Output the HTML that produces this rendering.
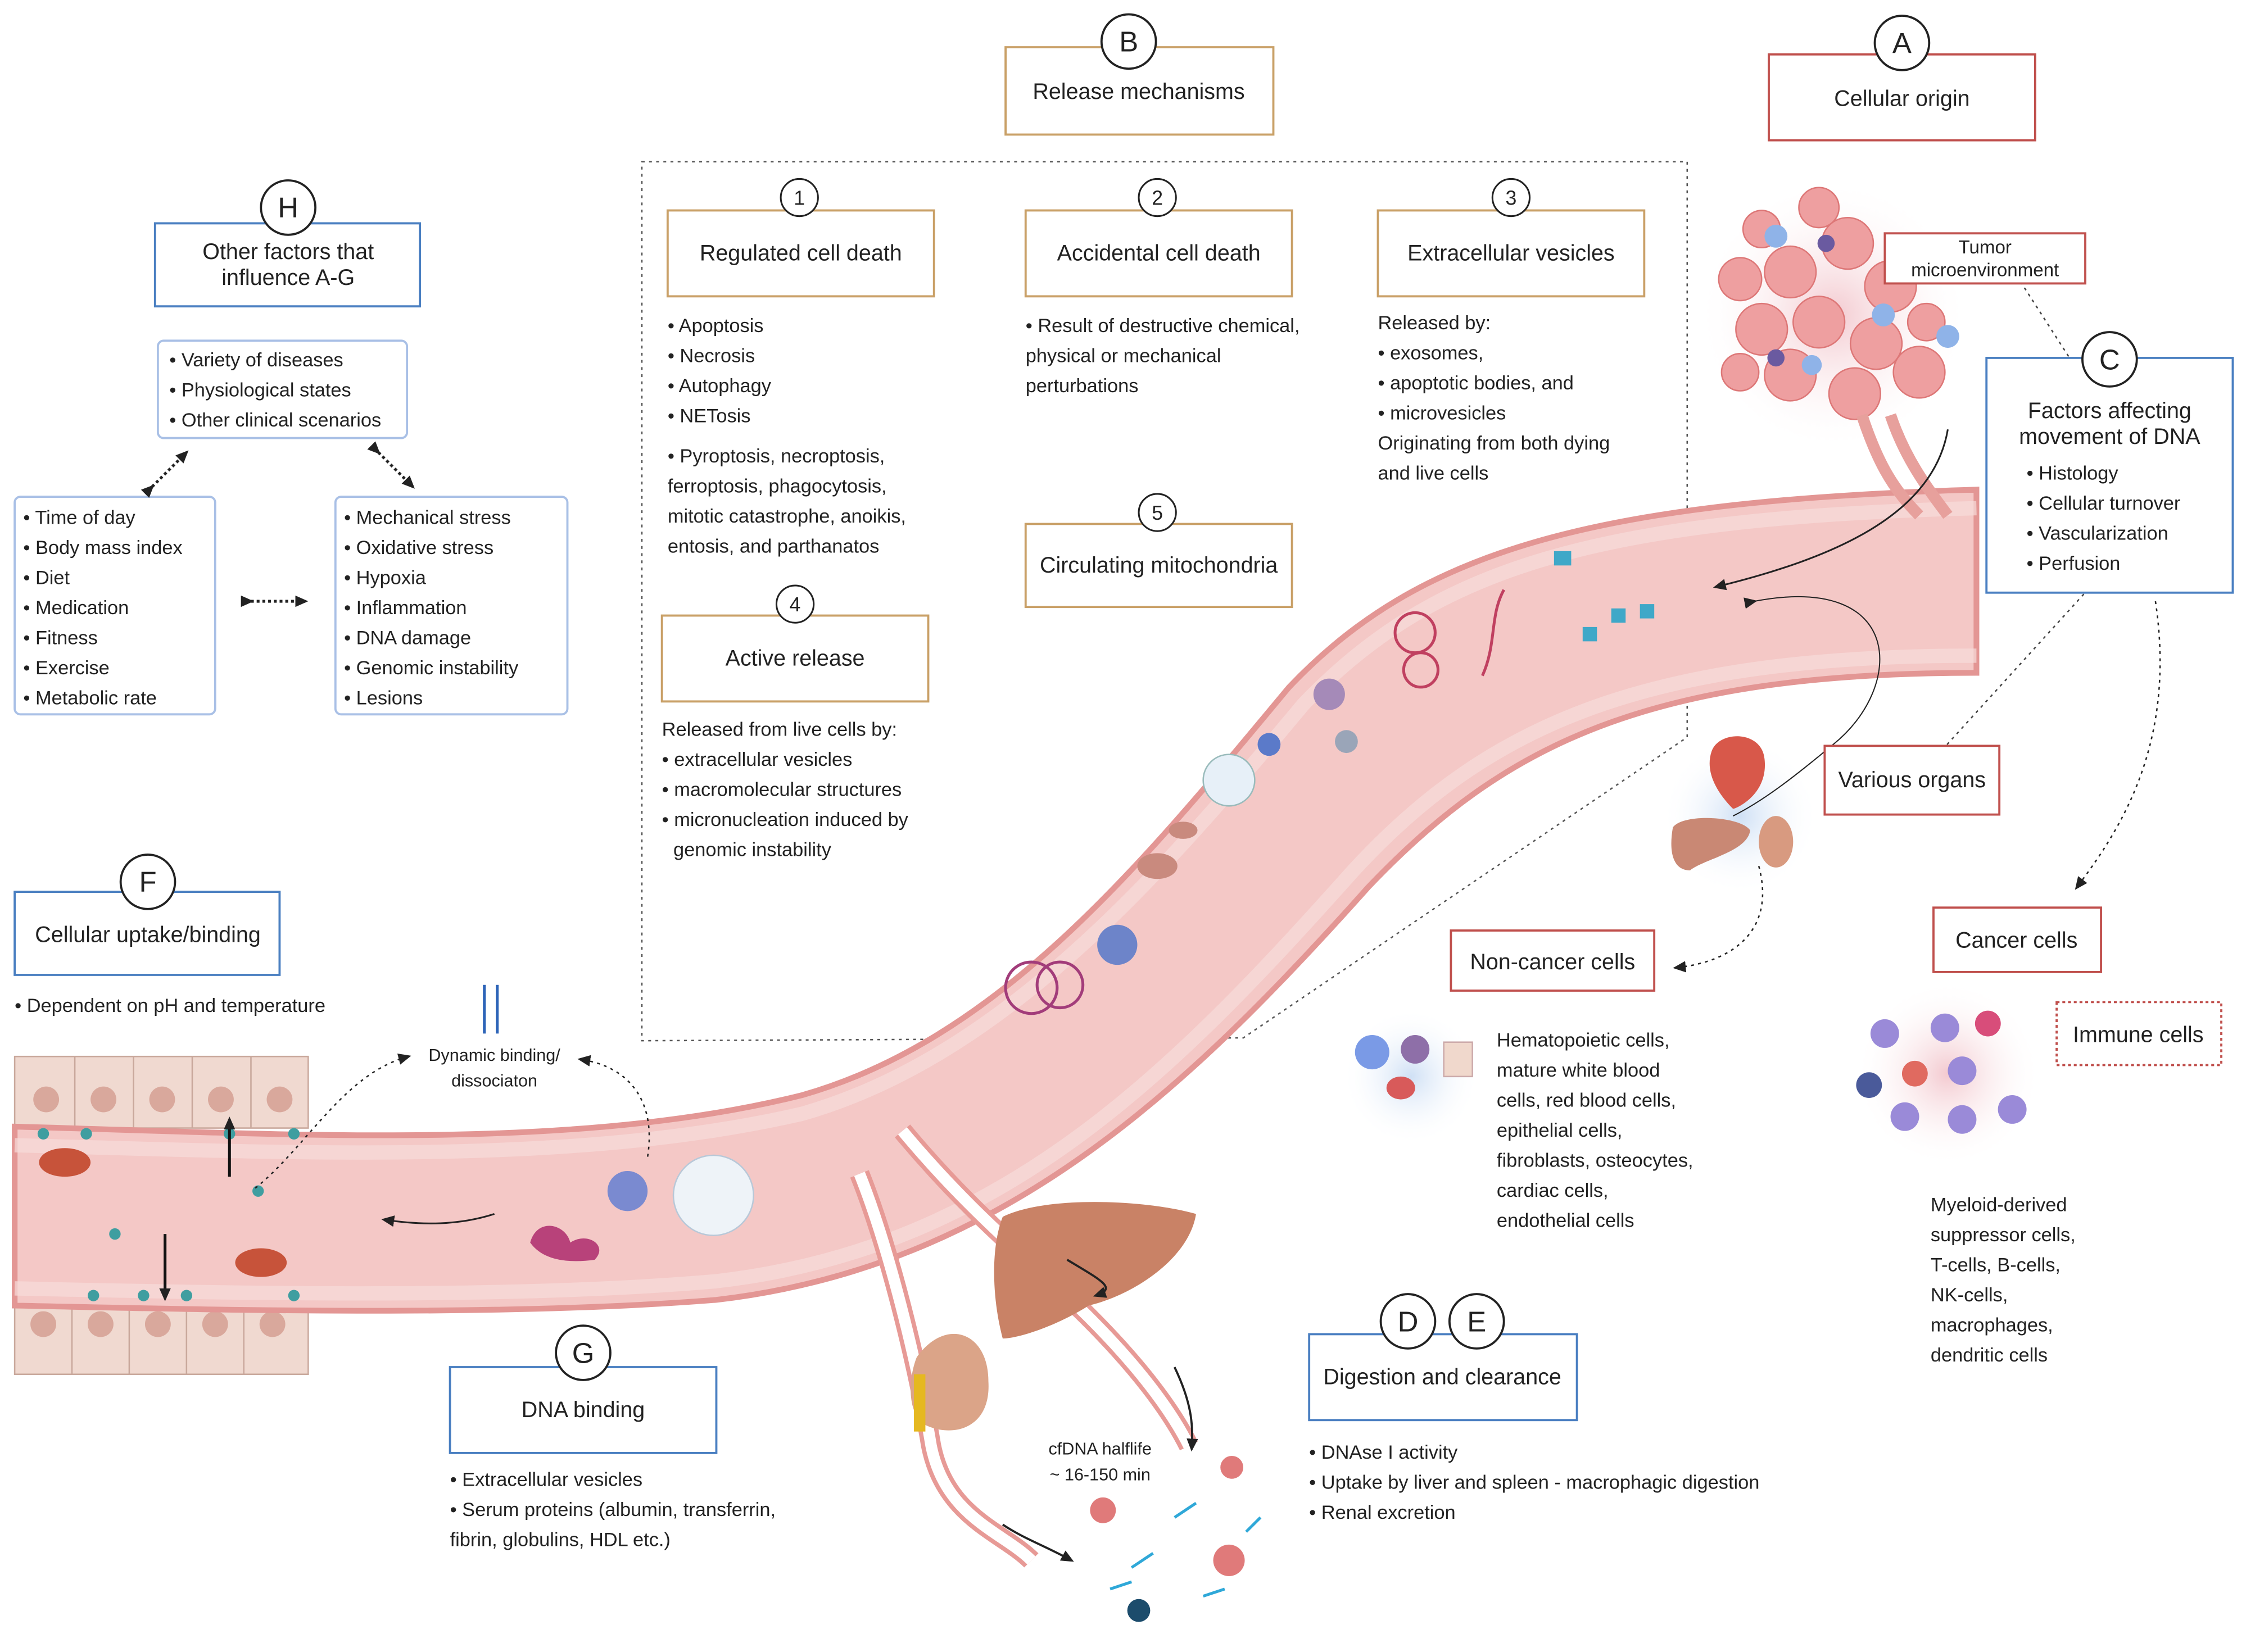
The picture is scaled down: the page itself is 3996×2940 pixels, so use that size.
<!DOCTYPE html>
<html><head><meta charset="utf-8">
<style>
html,body{margin:0;padding:0;background:#fff;}
svg{display:block;}
text{font-family:"Liberation Sans",sans-serif;fill:#222;}
</style></head>
<body>
<svg width="3996" height="2940" viewBox="0 0 1568 1154" xmlns="http://www.w3.org/2000/svg">
<defs>
<marker id="ar" markerUnits="userSpaceOnUse" markerWidth="9" markerHeight="8" refX="7" refY="4" orient="auto"><path d="M0,0 L9,4 L0,8 z" fill="#222"/></marker>
<radialGradient id="glow"><stop offset="0" stop-color="#f3c9cf"/><stop offset="1" stop-color="#fff" stop-opacity="0"/></radialGradient>
<radialGradient id="glowb"><stop offset="0" stop-color="#cfe0f5"/><stop offset="1" stop-color="#fff" stop-opacity="0"/></radialGradient>
</defs>

<path d="M448,113 L1178,113 L1178,515 L868,725 L448,727 Z" fill="none" stroke="#555" stroke-dasharray="2,3" stroke-width="1"/>

<g fill="#f0d9d0" stroke="#c9a89c" stroke-width="1">
<rect x="10" y="738" width="205" height="50"/>
<rect x="10" y="910" width="205" height="50"/>
</g>
<g stroke="#c9a89c" stroke-width="1">
<line x1="52" y1="738" x2="52" y2="788"/><line x1="93" y1="738" x2="93" y2="788"/><line x1="134" y1="738" x2="134" y2="788"/><line x1="175" y1="738" x2="175" y2="788"/>
<line x1="50" y1="910" x2="50" y2="960"/><line x1="90" y1="910" x2="90" y2="960"/><line x1="130" y1="910" x2="130" y2="960"/><line x1="170" y1="910" x2="170" y2="960"/>
</g>
<g fill="#d9a89c">
<circle cx="32" cy="768" r="9"/><circle cx="72" cy="768" r="9"/><circle cx="113" cy="768" r="9"/><circle cx="154" cy="768" r="9"/><circle cx="195" cy="768" r="9"/>
<circle cx="30" cy="925" r="9"/><circle cx="70" cy="925" r="9"/><circle cx="110" cy="925" r="9"/><circle cx="150" cy="925" r="9"/><circle cx="190" cy="925" r="9"/>
</g>

<path d="M10,787 C200,792 400,805 560,765 C700,725 800,600 900,480 C990,385 1110,350 1380,342 L1380,470 C1150,470 1050,520 955,620 C830,760 700,885 500,908 C350,920 150,915 10,912 Z" fill="#f4c8c6" stroke="#e39694" stroke-width="4"/>
<path d="M10,800 C200,805 400,815 560,778 C700,738 810,612 910,492 C1000,398 1110,362 1380,355" fill="none" stroke="#f7dcda" stroke-width="10" opacity=".7"/>
<path d="M10,900 C150,903 350,908 500,895 C700,872 820,748 945,608 C1040,505 1150,458 1380,458" fill="none" stroke="#f7dcda" stroke-width="10" opacity=".7"/>

<circle cx="1280" cy="220" r="95" fill="url(#glow)"/>
<g fill="#ee9fa0" stroke="#d77" stroke-width="1">
<circle cx="1250" cy="190" r="18"/><circle cx="1290" cy="170" r="18"/><circle cx="1320" cy="200" r="18"/><circle cx="1230" cy="230" r="18"/><circle cx="1270" cy="225" r="18"/><circle cx="1310" cy="240" r="18"/><circle cx="1250" cy="262" r="18"/><circle cx="1295" cy="275" r="18"/><circle cx="1340" cy="260" r="18"/><circle cx="1215" cy="195" r="15"/>
<circle cx="1270" cy="145" r="14"/><circle cx="1230" cy="160" r="13"/><circle cx="1345" cy="225" r="13"/><circle cx="1215" cy="260" r="13"/>
</g>
<g fill="#8fb3e8"><circle cx="1240" cy="165" r="8"/><circle cx="1315" cy="220" r="8"/><circle cx="1360" cy="235" r="8"/><circle cx="1265" cy="255" r="7"/></g>
<g fill="#6a5aa0"><circle cx="1275" cy="170" r="6"/><circle cx="1335" cy="185" r="6"/><circle cx="1240" cy="250" r="6"/></g>
<path d="M1300,290 C1310,320 1320,340 1340,360 M1320,290 C1330,320 1345,340 1360,360" stroke="#e7a09c" stroke-width="8" fill="none"/>

<circle cx="1215" cy="570" r="55" fill="url(#glowb)"/>
<path d="M1195,525 C1200,510 1230,510 1232,530 C1235,555 1212,565 1210,565 C1200,555 1190,540 1195,525Z" fill="#d8584a"/>
<path d="M1168,578 C1175,568 1215,570 1222,580 C1220,595 1190,600 1180,608 C1168,608 1165,595 1168,578Z" fill="#c98874"/>
<ellipse cx="1240" cy="588" rx="12" ry="18" fill="#d89a80"/>

<g fill="none" stroke-width="2">
<circle cx="720" cy="690" r="18" stroke="#a23c7a"/><circle cx="740" cy="688" r="16" stroke="#a23c7a"/>
<circle cx="988" cy="442" r="14" stroke="#c04060"/><circle cx="992" cy="468" r="12" stroke="#c04060"/>
<path d="M1035,472 C1045,450 1040,430 1050,412" stroke="#c04060"/>
</g>
<g fill="#3fa8c8"><rect x="1085" y="385" width="12" height="10"/><rect x="1105" y="438" width="10" height="10"/><rect x="1125" y="425" width="10" height="10"/><rect x="1145" y="422" width="10" height="10"/></g>
<circle cx="858" cy="545" r="18" fill="#e7f0f8" stroke="#9bb"/>
<circle cx="780" cy="660" r="14" fill="#6d84c9"/>
<ellipse cx="808" cy="605" rx="14" ry="9" fill="#c98a7e"/>
<ellipse cx="826" cy="580" rx="10" ry="6" fill="#c98a7e"/>
<circle cx="928" cy="485" r="11" fill="#a58ab8"/>
<circle cx="940" cy="518" r="8" fill="#9aa5b8"/>
<circle cx="886" cy="520" r="8" fill="#5b7ac9"/>
<circle cx="498" cy="835" r="28" fill="#eef3f8" stroke="#b8c8d8"/>
<circle cx="438" cy="832" r="14" fill="#7a8ad0"/>
<path d="M370,868 C375,850 395,855 398,868 C410,860 425,870 415,880 C400,882 380,882 370,868Z" fill="#b8427a"/>
<g fill="#3f9ea0"><circle cx="30" cy="792" r="4"/><circle cx="60" cy="792" r="4"/><circle cx="160" cy="792" r="4"/><circle cx="205" cy="792" r="4"/><circle cx="80" cy="862" r="4"/><circle cx="65" cy="905" r="4"/><circle cx="100" cy="905" r="4"/><circle cx="130" cy="905" r="4"/><circle cx="205" cy="905" r="4"/><circle cx="180" cy="832" r="4"/></g>
<ellipse cx="45" cy="812" rx="18" ry="10" fill="#c7533a"/>
<ellipse cx="182" cy="882" rx="18" ry="10" fill="#c7533a"/>

<line x1="160" y1="822" x2="160" y2="782" stroke="#111" stroke-width="2" marker-end="url(#ar)"/>
<line x1="115" y1="862" x2="115" y2="907" stroke="#111" stroke-width="2" marker-end="url(#ar)"/>
<path d="M345,848 C320,856 295,856 268,852" stroke="#222" stroke-width="1.2" fill="none" marker-end="url(#ar)"/>
<path d="M178,830 C215,800 240,750 285,738" stroke="#222" stroke-dasharray="2,3" fill="none" marker-end="url(#ar)"/>
<path d="M452,808 C458,770 440,745 405,740" stroke="#222" stroke-dasharray="2,3" fill="none" marker-end="url(#ar)"/>
<line x1="338" y1="688" x2="338" y2="722" stroke="#2d64b8" stroke-width="2"/>
<line x1="347" y1="722" x2="347" y2="688" stroke="#2d64b8" stroke-width="2"/>
<path d="M1360,300 C1350,360 1280,390 1198,410" stroke="#222" stroke-width="1.2" fill="none" marker-end="url(#ar)"/>
<path d="M1225,420 C1330,400 1330,480 1280,520 C1250,545 1230,560 1210,570" stroke="#222" stroke-width="0.8" fill="none" marker-start="url(#ar)"/>
<path d="M1400,180 L1445,250" stroke="#444" stroke-dasharray="2,3"/>
<path d="M1455,415 L1355,525" stroke="#444" stroke-dasharray="2,3"/>
<path d="M1505,420 C1520,520 1480,580 1450,620" stroke="#222" stroke-dasharray="2,3" fill="none" marker-end="url(#ar)"/>
<path d="M1228,605 C1240,650 1210,672 1170,676" stroke="#222" stroke-dasharray="2,3" fill="none" marker-end="url(#ar)"/>

<path d="M630,790 C680,850 720,880 760,920 C800,960 820,990 830,1010" stroke="#e79a96" stroke-width="14" fill="none"/>
<path d="M630,790 C680,850 720,880 760,920 C800,960 820,990 830,1010" stroke="#fff" stroke-width="8" fill="none"/>
<path d="M600,820 C620,870 640,950 650,1010 C660,1060 700,1070 720,1090" stroke="#e79a96" stroke-width="14" fill="none"/>
<path d="M600,820 C620,870 640,950 650,1010 C660,1060 700,1070 720,1090" stroke="#fff" stroke-width="8" fill="none"/>
<path d="M700,850 C730,835 800,838 835,848 C830,880 790,905 760,912 C740,925 712,935 700,935 C692,905 692,870 700,850Z" fill="#c98266"/>
<path d="M640,948 C660,920 690,930 690,965 C692,998 665,1005 645,995 C632,985 635,960 640,948Z" fill="#dba488"/>
<rect x="638" y="960" width="8" height="40" fill="#e5b820"/>
<path d="M745,880 C770,895 780,900 765,905" stroke="#222" stroke-width="1.5" fill="none" marker-end="url(#ar)"/>
<path d="M820,955 C832,980 833,995 832,1012" stroke="#222" stroke-width="1.5" fill="none" marker-end="url(#ar)"/>
<path d="M700,1065 C715,1075 730,1080 748,1090" stroke="#222" stroke-width="1.5" fill="none" marker-end="url(#ar)"/>
<g fill="#e07a7a"><circle cx="770" cy="1055" r="9"/><circle cx="858" cy="1090" r="11"/><circle cx="860" cy="1025" r="8"/></g>
<g fill="#1c4c6c"><circle cx="795" cy="1125" r="8"/></g>
<g stroke="#2fa8d8" stroke-width="2"><line x1="790" y1="1095" x2="805" y2="1085"/><line x1="820" y1="1060" x2="835" y2="1050"/><line x1="870" y1="1070" x2="880" y2="1060"/><line x1="775" y1="1110" x2="790" y2="1105"/><line x1="840" y1="1115" x2="855" y2="1110"/></g>

<circle cx="985" cy="752" r="48" fill="url(#glowb)"/>
<circle cx="958" cy="735" r="12" fill="#7a9ae6"/><circle cx="988" cy="733" r="10" fill="#8e6fa8"/><ellipse cx="978" cy="760" rx="10" ry="8" fill="#d85a5a"/><rect x="1008" y="728" width="20" height="24" fill="#f0d8cc" stroke="#caa"/>
<circle cx="1360" cy="750" r="65" fill="url(#glow)"/>
<g fill="#9a8ad8"><circle cx="1316" cy="722" r="10"/><circle cx="1358" cy="718" r="10"/><circle cx="1370" cy="748" r="10"/><circle cx="1330" cy="780" r="10"/><circle cx="1370" cy="782" r="10"/><circle cx="1405" cy="775" r="10"/></g>
<circle cx="1388" cy="715" r="9" fill="#d84d7a"/><circle cx="1337" cy="750" r="9" fill="#e06a60"/><circle cx="1305" cy="758" r="9" fill="#4a5a9a"/>

<g fill="#fff" stroke-width="1.5">
<rect x="702" y="33" width="187" height="61" stroke="#c9a067"/>
<rect x="1235" y="38" width="186" height="60" stroke="#c0504d"/>
<rect x="466" y="147" width="186" height="60" stroke="#c9a067"/>
<rect x="716" y="147" width="186" height="60" stroke="#c9a067"/>
<rect x="962" y="147" width="186" height="60" stroke="#c9a067"/>
<rect x="716" y="366" width="186" height="58" stroke="#c9a067"/>
<rect x="462" y="430" width="186" height="60" stroke="#c9a067"/>
<rect x="108" y="156" width="185" height="58" stroke="#4a7fc1"/>
<rect x="110" y="238" width="174" height="68" rx="4" stroke="#a9c0e6"/>
<rect x="10" y="347" width="140" height="152" rx="4" stroke="#a9c0e6"/>
<rect x="234" y="347" width="162" height="152" rx="4" stroke="#a9c0e6"/>
<rect x="10" y="623" width="185" height="58" stroke="#4a7fc1"/>
<rect x="314" y="955" width="186" height="60" stroke="#4a7fc1"/>
<rect x="914" y="932" width="187" height="60" stroke="#4a7fc1"/>
<rect x="1387" y="250" width="172" height="164" stroke="#4a7fc1"/>
<rect x="1316" y="163" width="140" height="35" stroke="#c0504d"/>
<rect x="1274" y="521" width="122" height="48" stroke="#c0504d"/>
<rect x="1013" y="650" width="142" height="42" stroke="#c0504d"/>
<rect x="1350" y="634" width="117" height="45" stroke="#c0504d"/>
<rect x="1436" y="700" width="115" height="44" stroke="#c0504d" stroke-dasharray="2,2"/>
</g>
<g fill="#fff" stroke="#222" stroke-width="1.5">
<circle cx="788" cy="29" r="19"/><circle cx="1328" cy="30" r="19"/><circle cx="1473" cy="251" r="19"/>
<circle cx="201" cy="145" r="19"/><circle cx="103" cy="616" r="19"/><circle cx="407" cy="945" r="19"/>
<circle cx="983" cy="923" r="19"/><circle cx="1031" cy="923" r="19"/>
</g>
<g fill="#fff" stroke="#222" stroke-width="1.2">
<circle cx="558" cy="138" r="13"/><circle cx="808" cy="138" r="13"/><circle cx="1055" cy="138" r="13"/><circle cx="808" cy="358" r="13"/><circle cx="555" cy="422" r="13"/>
</g>
<g font-size="20" text-anchor="middle">
<text x="788" y="36">B</text><text x="1328" y="37">A</text><text x="1473" y="258">C</text><text x="201" y="152">H</text><text x="103" y="623">F</text><text x="407" y="952">G</text><text x="983" y="930">D</text><text x="1031" y="930">E</text>
</g>
<g font-size="14" text-anchor="middle">
<text x="558" y="143">1</text><text x="808" y="143">2</text><text x="1055" y="143">3</text><text x="808" y="363">5</text><text x="555" y="427">4</text>
</g>

<g font-size="15.5" text-anchor="middle">
<text x="795" y="69">Release mechanisms</text>
<text x="1328" y="74">Cellular origin</text>
<text x="559" y="182">Regulated cell death</text>
<text x="809" y="182">Accidental cell death</text>
<text x="1055" y="182">Extracellular vesicles</text>
<text x="809" y="400">Circulating mitochondria</text>
<text x="555" y="465">Active release</text>
<text x="201" y="181">Other factors that</text>
<text x="201" y="199">influence A-G</text>
<text x="103" y="658">Cellular uptake/binding</text>
<text x="407" y="990">DNA binding</text>
<text x="1007" y="967">Digestion and clearance</text>
<text x="1473" y="292">Factors affecting</text>
<text x="1473" y="310">movement of DNA</text>
<text x="1335" y="550">Various organs</text>
<text x="1084" y="677">Non-cancer cells</text>
<text x="1408" y="662">Cancer cells</text>
<text x="1493" y="728">Immune cells</text>
</g>
<g font-size="13" text-anchor="middle"><text x="1386" y="177">Tumor</text><text x="1386" y="193">microenvironment</text></g>

<g font-size="13.5">
<text x="466" y="232">• Apoptosis</text><text x="466" y="253">• Necrosis</text><text x="466" y="274">• Autophagy</text><text x="466" y="295">• NETosis</text>
<text x="466" y="323">• Pyroptosis, necroptosis,</text><text x="466" y="344">ferroptosis, phagocytosis,</text><text x="466" y="365">mitotic catastrophe, anoikis,</text><text x="466" y="386">entosis, and parthanatos</text>
<text x="716" y="232">• Result of destructive chemical,</text><text x="716" y="253">physical or mechanical</text><text x="716" y="274">perturbations</text>
<text x="962" y="230">Released by:</text><text x="962" y="251">• exosomes,</text><text x="962" y="272">• apoptotic bodies, and</text><text x="962" y="293">• microvesicles</text><text x="962" y="314">Originating from both dying</text><text x="962" y="335">and live cells</text>
<text x="462" y="514">Released from live cells by:</text><text x="462" y="535">• extracellular vesicles</text><text x="462" y="556">• macromolecular structures</text><text x="462" y="577">• micronucleation induced by</text><text x="470" y="598">genomic instability</text>
<text x="118" y="256">• Variety of diseases</text><text x="118" y="277">• Physiological states</text><text x="118" y="298">• Other clinical scenarios</text>
<text x="16" y="366">• Time of day</text><text x="16" y="387">• Body mass index</text><text x="16" y="408">• Diet</text><text x="16" y="429">• Medication</text><text x="16" y="450">• Fitness</text><text x="16" y="471">• Exercise</text><text x="16" y="492">• Metabolic rate</text>
<text x="240" y="366">• Mechanical stress</text><text x="240" y="387">• Oxidative stress</text><text x="240" y="408">• Hypoxia</text><text x="240" y="429">• Inflammation</text><text x="240" y="450">• DNA damage</text><text x="240" y="471">• Genomic instability</text><text x="240" y="492">• Lesions</text>
<text x="10" y="707">• Dependent on pH and temperature</text>
<text x="314" y="1038">• Extracellular vesicles</text><text x="314" y="1059">• Serum proteins (albumin, transferrin,</text><text x="314" y="1080">fibrin, globulins, HDL etc.)</text>
<text x="914" y="1019">• DNAse I activity</text><text x="914" y="1040">• Uptake by liver and spleen - macrophagic digestion</text><text x="914" y="1061">• Renal excretion</text>
<text x="1415" y="335">• Histology</text><text x="1415" y="356">• Cellular turnover</text><text x="1415" y="377">• Vascularization</text><text x="1415" y="398">• Perfusion</text>
<text x="1045" y="731">Hematopoietic cells,</text><text x="1045" y="752">mature white blood</text><text x="1045" y="773">cells, red blood cells,</text><text x="1045" y="794">epithelial cells,</text><text x="1045" y="815">fibroblasts, osteocytes,</text><text x="1045" y="836">cardiac cells,</text><text x="1045" y="857">endothelial cells</text>
<text x="1348" y="846">Myeloid-derived</text><text x="1348" y="867">suppressor cells,</text><text x="1348" y="888">T-cells, B-cells,</text><text x="1348" y="909">NK-cells,</text><text x="1348" y="930">macrophages,</text><text x="1348" y="951">dendritic cells</text>
</g>
<g font-size="12" text-anchor="middle">
<text x="345" y="741">Dynamic binding/</text><text x="345" y="759">dissociaton</text>
<text x="768" y="1016">cfDNA halflife</text><text x="768" y="1034">~ 16-150 min</text>
</g>

<g stroke="#222" stroke-width="2" stroke-dasharray="2,2" marker-end="url(#ar)" marker-start="url(#ar)">
<line x1="106" y1="340" x2="130" y2="316"/>
<line x1="264" y1="316" x2="288" y2="340"/>
<line x1="175" y1="420" x2="213" y2="420"/>
</g>
</svg>
</body></html>
